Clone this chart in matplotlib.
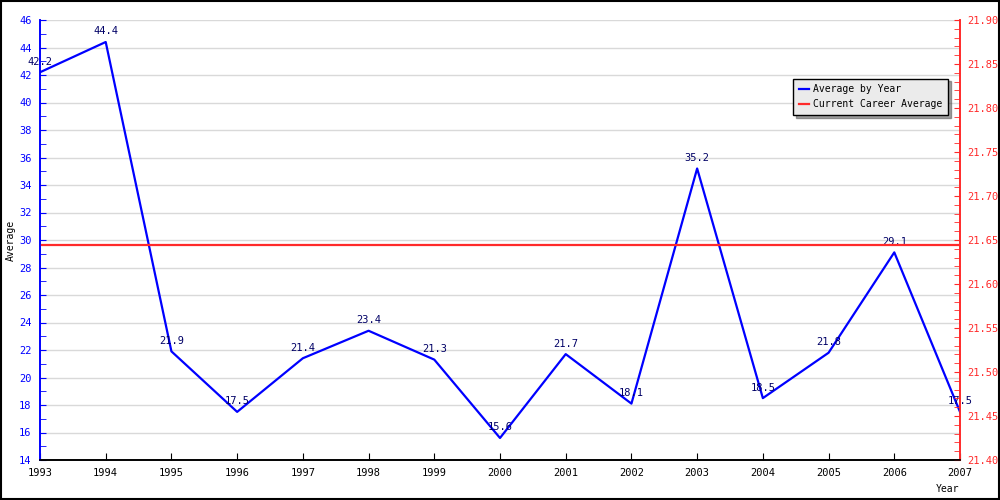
import matplotlib
matplotlib.use("Agg")
import matplotlib.pyplot as plt
from matplotlib.ticker import MultipleLocator, FormatStrFormatter
from matplotlib.patches import Rectangle

plt.rcParams['font.family'] = ['DejaVu Sans Mono']

# --- data ---
years = [1993, 1994, 1995, 1996, 1997, 1998, 1999, 2000,
         2001, 2002, 2003, 2004, 2005, 2006, 2007]
averages = [42.2, 44.4, 21.9, 17.5, 21.4, 23.4, 21.3, 15.6,
            21.7, 18.1, 35.2, 18.5, 21.8, 29.1, 17.5]
career_avg = 21.644

BLUE = '#0000ff'
RED = '#ff2a2a'
NAVY = '#000066'

fig = plt.figure(figsize=(10, 5), dpi=100)
fig.patches.append(Rectangle((0.001, 0.002), 0.998, 0.996, transform=fig.transFigure,
                             fill=False, edgecolor='black', linewidth=1.5))

ax = fig.add_axes([0.04, 0.08, 0.92, 0.88])
ax2 = ax.twinx()

ax.plot(years, averages, color=BLUE, linewidth=1.6, label='Average by Year', zorder=3)
for x, y in zip(years, averages):
    ax.annotate(f"{y:.1f}", (x, y), xytext=(0, 4), textcoords='offset points',
                ha='center', va='bottom', fontsize=7.5, color=NAVY, zorder=4)

ax2.axhline(career_avg, color=RED, linewidth=1.6, label='Current Career Average')

ax.set_xlim(1993, 2007)
ax.set_ylim(14, 46)
ax2.set_ylim(21.40, 21.90)

ax.set_xticks(years)
ax.yaxis.set_major_locator(MultipleLocator(2))
ax.yaxis.set_minor_locator(MultipleLocator(1))
ax2.yaxis.set_major_locator(MultipleLocator(0.05))
ax2.yaxis.set_minor_locator(MultipleLocator(0.01))
ax2.yaxis.set_major_formatter(FormatStrFormatter('%.2f'))

ax.grid(axis='y', which='major', color='#d9d9d9', linewidth=1)
ax.set_axisbelow(True)

ax.tick_params(axis='x', direction='in', length=5, labelsize=7.5, pad=6, colors='black')
ax.tick_params(axis='y', which='both', direction='in', length=4, labelsize=7.5,
               colors=BLUE, pad=6)
ax2.tick_params(axis='y', which='both', direction='in', length=4, labelsize=7.5,
                colors=RED, pad=5)

for a in (ax, ax2):
    a.spines['top'].set_visible(False)
    a.spines['left'].set_color(BLUE)
    a.spines['right'].set_color(RED)
    a.spines['bottom'].set_color('black')
    for s in a.spines.values():
        s.set_linewidth(1.2)

ax.set_ylabel('Average', fontsize=7)
ax.yaxis.set_label_coords(-0.026, 0.5)
ax.set_xlabel('Year', fontsize=7)
ax.xaxis.set_label_coords(0.986, -0.055)

h1, l1 = ax.get_legend_handles_labels()
h2, l2 = ax2.get_legend_handles_labels()
leg = ax2.legend(h1 + h2, l1 + l2, loc='upper right', bbox_to_anchor=(0.992, 0.878),
                 fontsize=7, frameon=True, fancybox=False, shadow=True,
                 handlelength=1.0, handletextpad=0.4, borderpad=0.6,
                 labelspacing=0.5)
leg.get_frame().set_facecolor('#ebebeb')
leg.get_frame().set_edgecolor('black')
leg.get_frame().set_alpha(1)

fig.savefig('out.png', dpi=100)
